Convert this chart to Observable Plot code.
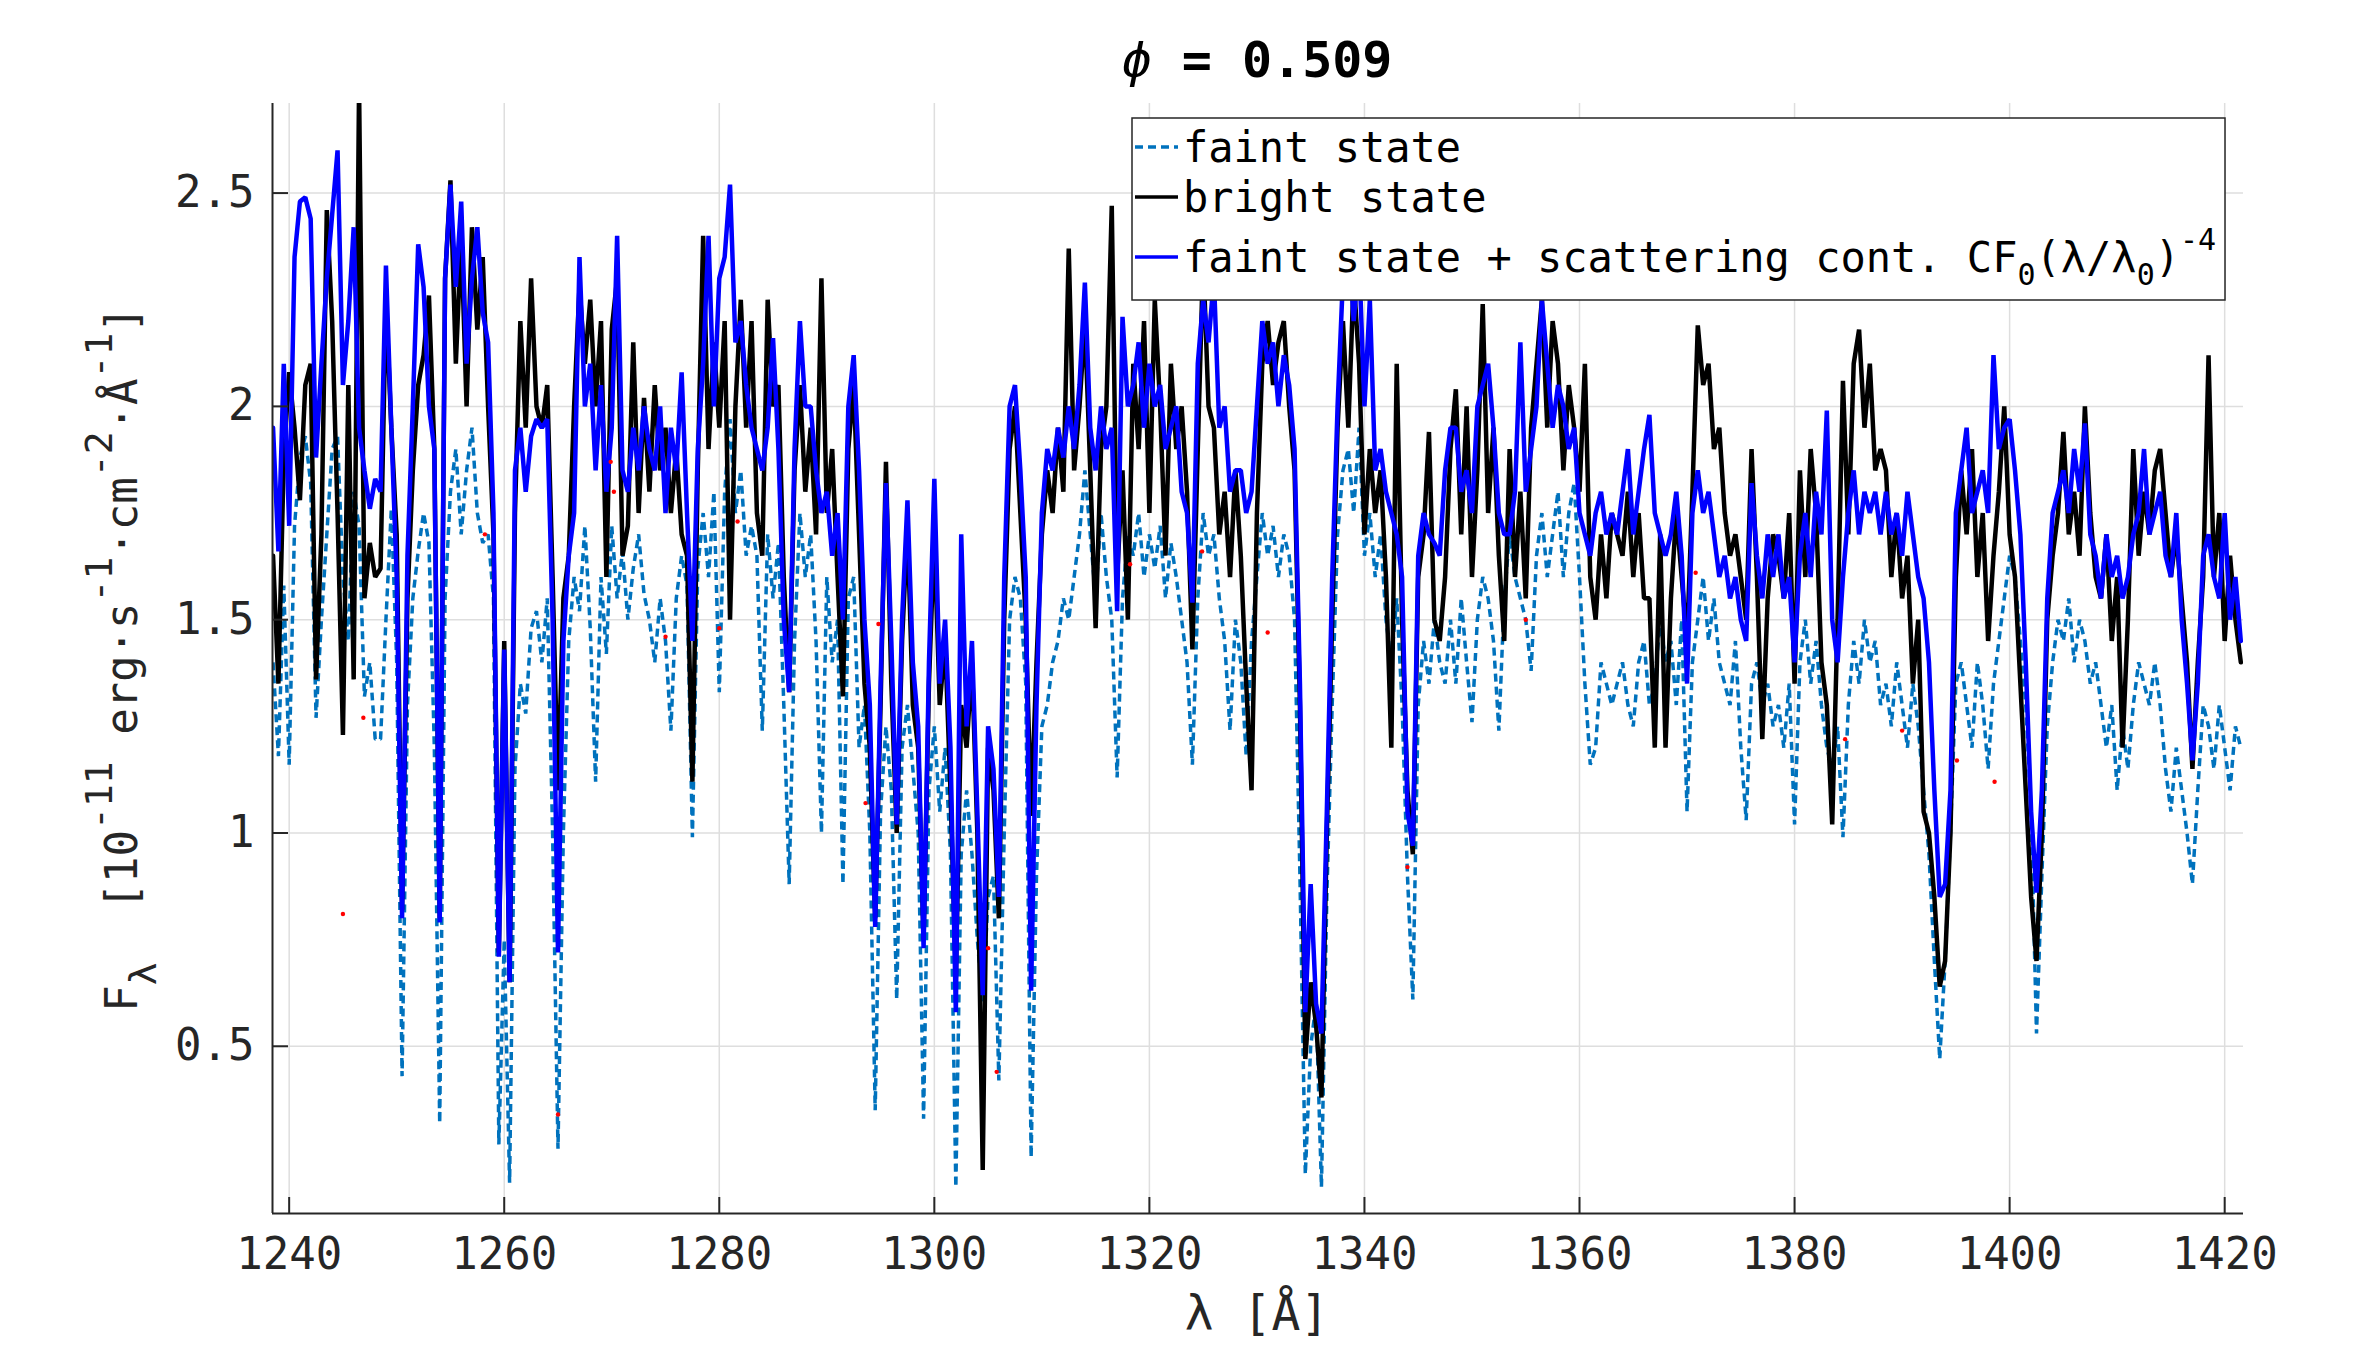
<!DOCTYPE html>
<html><head><meta charset="utf-8">
<script src="https://cdn.jsdelivr.net/npm/d3@7"></script>
<script src="https://cdn.jsdelivr.net/npm/@observablehq/plot@0.6"></script>
<style>html,body{margin:0;padding:0;background:#fff;} svg{display:block;}</style>
</head><body><div id="chart"></div>
<script>
// wavelength grid of the sampled spectra (Å)
const lambdaStart = 1238.5, lambdaStep = 0.5;

// faint state (dashed)
const faint = [
1.40,1.18,1.58,1.16,1.72,1.88,1.93,1.82,1.27,1.50,
1.70,1.90,1.93,1.60,1.45,1.80,1.72,1.32,1.40,1.22,
1.22,1.50,1.76,1.40,0.43,1.30,1.55,1.66,1.75,1.68,
1.20,0.32,1.55,1.80,1.90,1.70,1.85,1.95,1.75,1.68,
1.70,1.55,0.27,0.75,0.18,1.15,1.35,1.28,1.48,1.52,
1.40,1.55,1.00,0.26,1.00,1.45,1.60,1.52,1.72,1.48,
1.12,1.60,1.42,1.72,1.55,1.66,1.50,1.62,1.70,1.56,
1.50,1.40,1.55,1.45,1.24,1.55,1.65,1.58,0.99,1.62,
1.75,1.60,1.80,1.33,1.80,1.97,1.75,1.85,1.65,1.72,
1.65,1.24,1.70,1.55,1.68,1.30,0.88,1.45,1.75,1.60,
1.70,1.45,1.00,1.60,1.40,1.50,0.88,1.55,1.60,1.20,
1.30,1.00,0.35,1.05,1.25,1.10,0.61,1.20,1.30,1.15,
1.00,0.33,1.10,1.25,1.05,1.20,0.95,0.17,0.95,1.10,
0.95,0.75,0.60,0.85,0.90,0.42,1.00,1.50,1.60,1.55,
1.35,0.24,0.90,1.25,1.30,1.40,1.45,1.55,1.50,1.60,
1.70,1.85,1.70,1.55,1.75,1.60,1.50,1.13,1.55,1.70,
1.65,1.75,1.60,1.70,1.62,1.72,1.55,1.68,1.60,1.50,
1.40,1.16,1.55,1.75,1.65,1.70,1.55,1.45,1.24,1.50,
1.40,1.18,1.45,1.60,1.75,1.65,1.72,1.60,1.70,1.65,
1.50,0.90,0.20,0.50,0.60,0.17,0.85,1.30,1.70,1.85,
1.90,1.75,1.95,1.65,1.75,1.60,1.70,1.50,1.40,1.55,
1.30,0.90,0.61,1.30,1.45,1.35,1.50,1.40,1.35,1.50,
1.35,1.55,1.40,1.26,1.50,1.60,1.55,1.45,1.24,1.55,
1.70,1.60,1.55,1.50,1.38,1.65,1.75,1.60,1.70,1.80,
1.60,1.75,1.82,1.60,1.35,1.16,1.20,1.40,1.35,1.30,
1.35,1.40,1.30,1.25,1.40,1.45,1.30,1.35,1.50,1.40,
1.45,1.30,1.50,1.05,1.40,1.50,1.60,1.45,1.55,1.40,
1.35,1.30,1.45,1.20,1.03,1.35,1.40,1.30,1.35,1.25,
1.30,1.20,1.35,1.02,1.40,1.50,1.35,1.45,1.30,1.20,
1.15,1.25,0.99,1.30,1.45,1.35,1.50,1.40,1.45,1.30,
1.35,1.25,1.40,1.30,1.20,1.35,1.25,1.10,0.95,0.70,
0.47,0.70,1.00,1.35,1.40,1.30,1.20,1.40,1.30,1.15,
1.35,1.45,1.55,1.65,1.60,1.45,1.30,1.05,0.53,0.90,
1.25,1.40,1.50,1.45,1.55,1.40,1.50,1.45,1.35,1.40,
1.30,1.20,1.30,1.10,1.25,1.15,1.30,1.40,1.35,1.30,
1.40,1.30,1.15,1.05,1.20,1.10,1.00,0.88,1.10,1.30,
1.25,1.15,1.30,1.20,1.10,1.25,1.20
];

// bright state (black)
const bright = [
1.65,1.35,1.88,2.08,1.95,1.78,2.05,2.10,1.36,1.70,
2.46,2.20,1.75,1.23,2.05,1.36,2.75,1.55,1.68,1.60,
1.62,2.25,1.95,1.70,0.82,1.55,1.85,2.05,2.12,2.26,
1.90,0.80,2.30,2.53,2.10,2.40,2.00,2.42,2.18,2.35,
2.00,1.70,0.72,1.45,0.65,1.75,2.20,1.95,2.30,2.00,
1.95,2.05,1.60,1.10,1.55,1.65,2.00,2.28,2.10,2.25,
2.00,2.20,1.60,2.18,2.30,1.65,1.72,2.15,1.75,2.02,
1.80,2.05,1.85,1.95,1.75,1.90,1.70,1.65,1.12,1.85,
2.40,1.90,2.15,1.95,2.20,1.50,2.00,2.25,1.95,2.20,
1.75,1.65,2.25,2.00,2.05,1.60,1.33,1.85,2.05,1.80,
1.95,1.70,2.30,1.75,1.90,1.60,1.32,1.90,2.05,1.70,
1.35,1.20,0.80,1.30,1.87,1.35,1.00,1.45,1.72,1.30,
1.20,0.75,1.35,1.70,1.30,1.45,1.10,0.66,1.30,1.20,
1.40,1.00,0.21,1.20,1.10,0.80,1.50,1.90,2.00,1.75,
1.50,1.04,1.40,1.70,1.85,1.75,1.95,1.80,2.37,1.85,
2.00,2.20,1.85,1.48,1.90,2.00,2.47,1.60,1.85,1.50,
2.10,1.90,2.20,1.75,2.25,2.00,1.65,2.10,1.90,2.00,
1.80,1.43,1.90,2.35,2.00,1.95,1.70,1.80,1.60,1.85,
1.65,1.35,1.10,1.75,2.10,2.20,2.05,2.15,2.20,2.00,
1.85,1.30,0.47,0.65,0.55,0.38,1.00,1.50,1.95,2.20,
1.95,2.30,2.10,1.70,1.90,1.75,1.85,1.60,1.20,2.10,
1.50,1.10,0.95,1.60,1.70,1.94,1.50,1.45,1.60,1.90,
2.04,1.70,2.00,1.60,1.85,2.24,1.75,1.95,1.65,1.45,
1.90,1.60,1.80,1.55,1.95,2.10,2.25,1.95,2.20,2.10,
1.85,2.05,1.95,1.80,2.10,1.60,1.50,1.70,1.55,1.75,
1.70,1.65,1.80,1.60,1.75,1.55,1.55,1.20,1.70,1.20,
1.55,1.75,1.60,1.45,1.80,2.19,2.05,2.10,1.90,1.95,
1.75,1.65,1.70,1.60,1.50,1.90,1.60,1.22,1.55,1.70,
1.65,1.55,1.75,1.35,1.85,1.60,1.90,1.75,1.40,1.30,
1.02,1.50,2.06,1.70,2.10,2.18,1.95,2.10,1.85,1.90,
1.85,1.60,1.75,1.55,1.65,1.35,1.50,1.05,1.00,0.85,
0.64,0.70,1.00,1.60,1.85,1.70,1.90,1.60,1.75,1.45,
1.65,1.80,2.00,1.70,1.60,1.35,1.10,0.85,0.70,1.00,
1.50,1.65,1.75,1.94,1.70,1.80,1.65,2.00,1.75,1.60,
1.55,1.70,1.45,1.60,1.20,1.50,1.90,1.65,1.80,1.70,
1.85,1.90,1.75,1.60,1.70,1.55,1.40,1.15,1.40,1.60,
2.12,1.60,1.75,1.45,1.65,1.50,1.40
];

// faint state + scattering continuum (blue)
const scattered = [
1.95,1.66,2.10,1.72,2.35,2.48,2.49,2.44,1.88,2.10,
2.30,2.45,2.60,2.05,2.20,2.42,1.95,1.85,1.76,1.83,
1.80,2.33,1.95,1.60,0.80,1.65,2.00,2.38,2.28,2.00,
1.90,0.79,2.30,2.52,2.28,2.48,2.10,2.30,2.42,2.22,
2.15,1.75,0.71,1.43,0.65,1.85,1.95,1.80,1.93,1.97,
1.95,1.97,1.50,0.72,1.45,1.65,1.75,2.35,2.00,2.10,
1.85,2.05,1.80,1.95,2.40,1.85,1.80,1.95,1.85,2.00,
1.90,1.85,2.00,1.75,1.95,1.85,2.08,1.75,1.45,1.90,
2.10,2.40,2.00,2.30,2.35,2.52,2.15,2.20,2.05,1.95,
1.90,1.85,1.95,2.16,1.90,1.50,1.33,1.90,2.20,2.00,
2.00,1.85,1.75,1.80,1.65,1.75,1.50,2.00,2.12,1.85,
1.50,1.30,0.78,1.35,1.82,1.45,1.02,1.50,1.78,1.40,
1.25,0.73,1.40,1.83,1.35,1.50,1.20,0.58,1.70,1.25,
1.45,1.05,0.62,1.25,1.15,0.85,1.60,2.00,2.05,1.85,
1.60,0.63,1.30,1.75,1.90,1.85,1.95,1.88,2.00,1.90,
2.05,2.29,1.95,1.85,2.00,1.90,1.95,1.52,2.21,2.00,
2.05,2.15,1.95,2.10,2.00,2.05,1.90,1.95,2.00,1.80,
1.75,1.54,2.10,2.25,2.15,2.30,1.95,2.00,1.80,1.85,
1.85,1.75,1.80,2.00,2.20,2.10,2.15,2.00,2.12,2.05,
1.90,1.35,0.58,0.88,0.60,0.53,1.05,1.60,2.00,2.30,
2.40,2.20,2.35,2.00,2.25,1.85,1.90,1.80,1.75,1.70,
1.60,1.05,0.97,1.65,1.75,1.70,1.68,1.65,1.85,1.95,
1.95,1.80,1.85,1.75,2.00,2.05,2.10,1.95,1.75,1.70,
1.70,1.80,2.15,1.80,1.90,2.00,2.25,2.10,1.95,2.05,
2.00,1.90,1.95,1.75,1.70,1.65,1.75,1.80,1.70,1.75,
1.70,1.80,1.90,1.70,1.80,1.90,1.98,1.75,1.70,1.65,
1.70,1.80,1.65,1.35,1.75,1.85,1.75,1.80,1.70,1.60,
1.65,1.55,1.60,1.50,1.45,1.82,1.65,1.55,1.70,1.60,
1.70,1.55,1.60,1.40,1.65,1.75,1.60,1.80,1.70,1.99,
1.50,1.40,1.60,1.75,1.85,1.70,1.80,1.75,1.80,1.70,
1.80,1.70,1.75,1.65,1.80,1.70,1.60,1.55,1.40,1.10,
0.85,0.88,1.10,1.75,1.85,1.95,1.75,1.80,1.85,1.75,
2.12,1.90,1.95,1.97,1.85,1.70,1.40,1.05,0.86,1.10,
1.55,1.75,1.80,1.85,1.75,1.90,1.80,1.96,1.70,1.65,
1.55,1.70,1.60,1.65,1.55,1.60,1.70,1.75,1.90,1.70,
1.75,1.80,1.65,1.60,1.75,1.50,1.35,1.17,1.35,1.65,
1.70,1.60,1.55,1.75,1.50,1.60,1.45
];

// isolated red points
const redLambda = [1245.0,1246.9,1258.2,1265.0,1269.9,1270.2,1275.0,1280.0,1281.7,1293.6,1294.8,1305.0,1305.8,1318.2,1324.9,1331.0,1344.0,1355.0,1370.8,1384.7,1390.0,1395.1,1398.6];
const redFlux   = [0.81,1.27,1.70,0.34,1.87,1.80,1.46,1.48,1.73,1.07,1.49,0.73,0.44,1.63,1.66,1.47,0.92,1.50,1.61,1.22,1.24,1.17,1.12];

const xTicks = [1240,1260,1280,1300,1320,1340,1360,1380,1400,1420];
const yTicks = [0.5,1,1.5,2,2.5];
const xDomain = [1238.45, 1421.75];
const yDomain = [0.108, 2.71];

const lambda = faint.map((_, i) => lambdaStart + lambdaStep * i);
const toRows = arr => arr.map((v, i) => ({x: lambda[i], y: v}));
const redRows = redLambda.map((x, i) => ({x, y: redFlux[i]}));

const axisColor = "#262626";
const mono = "'DejaVu Sans Mono', monospace";

const plot = Plot.plot({
  width: 2372, height: 1349,
  marginLeft: 272, marginRight: 129, marginTop: 103, marginBottom: 136,
  style: {fontFamily: mono, fontSize: "44px", color: axisColor, background: "#fff", overflow: "visible"},
  x: {domain: xDomain, label: null},
  y: {domain: yDomain, label: null},
  marks: [
    Plot.gridX(xTicks, {stroke: "#dedede", strokeOpacity: 1, strokeWidth: 1.5}),
    Plot.gridY(yTicks, {stroke: "#dedede", strokeOpacity: 1, strokeWidth: 1.5}),
    Plot.line(toRows(faint), {x: "x", y: "y", stroke: "#0072BD", strokeWidth: 3.5, strokeDasharray: "8,5", strokeLinejoin: "miter", strokeLinecap: "butt", clip: true}),
    Plot.line(toRows(bright), {x: "x", y: "y", stroke: "#000000", strokeWidth: 4.5, strokeLinejoin: "miter", clip: true}),
    Plot.line(toRows(scattered), {x: "x", y: "y", stroke: "#0000FF", strokeWidth: 4.5, strokeLinejoin: "miter", clip: true}),
    Plot.dot(redRows, {x: "x", y: "y", r: 2.2, fill: "#FF0000", stroke: "none"}),
    Plot.ruleX([xDomain[0]], {stroke: axisColor, strokeWidth: 2}),
    Plot.ruleY([yDomain[0]], {stroke: axisColor, strokeWidth: 2}),
    Plot.axisX(xTicks, {tickSize: -16, tickPadding: 40, tickFormat: d => String(d), stroke: axisColor, strokeWidth: 2, fill: axisColor, fontSize: 44}),
    Plot.axisY(yTicks, {tickSize: -16, tickPadding: 34, tickFormat: d => String(d), stroke: axisColor, strokeWidth: 2, fill: axisColor, fontSize: 44})
  ]
});

document.getElementById("chart").appendChild(plot);

const svg = d3.select(plot);
const cx = 1257;

// title
const t = svg.append("text").attr("x", cx).attr("y", 60).attr("text-anchor", "middle")
  .attr("dominant-baseline", "central").style("font-family", mono).style("font-size", "50px")
  .style("fill", "#000").style("white-space", "pre");
t.append("tspan").style("font-style", "italic").text("ϕ");
t.append("tspan").style("font-weight", "bold").text(" = 0.509");

// x label
svg.append("text").attr("x", cx).attr("y", 1313).attr("text-anchor", "middle")
  .attr("dominant-baseline", "central").style("font-family", mono).style("font-size", "48px")
  .style("fill", axisColor).style("white-space", "pre").text("λ [Å]");

// y label
const yl = svg.append("text").attr("transform", "translate(121,659) rotate(-90)")
  .attr("text-anchor", "middle").attr("dominant-baseline", "central")
  .style("font-family", mono).style("font-size", "44px").style("fill", axisColor).style("white-space", "pre");
const ylParts = [["F", null], ["λ", "sub"], ["  [10", null], ["-11", "super"], [" erg·s", null], ["-1", "super"],
  ["·cm", null], ["-2", "super"], ["·Å", null], ["-1", "super"], ["]", null]];
ylParts.forEach(([s, shift]) => {
  const sp = yl.append("tspan").text(s);
  if (shift) sp.attr("baseline-shift", shift).style("font-size", "38px");
});

// legend
const lg = svg.append("g").attr("text-anchor", "start");
lg.append("rect").attr("x", 1132).attr("y", 118).attr("width", 1093).attr("height", 182)
  .attr("fill", "#ffffff").attr("stroke", axisColor).attr("stroke-width", 1.5);
const legendRows = [
  {y: 147, stroke: "#0072BD", dash: "8,5", w: 3.5, parts: [["faint state", null]]},
  {y: 197, stroke: "#000000", dash: null, w: 3.5, parts: [["bright state", null]]},
  {y: 257, stroke: "#0000FF", dash: null, w: 3.5, parts: [["faint state + scattering cont. CF", null], ["0", "sub"], ["(λ/λ", null], ["0", "sub"], [")", null], ["-4", "super"]]}
];
legendRows.forEach(r => {
  lg.append("line").attr("x1", 1135).attr("x2", 1178).attr("y1", r.y).attr("y2", r.y)
    .attr("stroke", r.stroke).attr("stroke-width", r.w).attr("stroke-dasharray", r.dash);
  const tx = lg.append("text").attr("x", 1183).attr("y", r.y).attr("text-anchor", "start")
    .attr("dominant-baseline", "central")
    .style("font-family", mono).style("font-size", "42px").style("fill", "#000").style("white-space", "pre");
  r.parts.forEach(([s, shift]) => {
    const sp = tx.append("tspan").text(s);
    if (shift) sp.attr("baseline-shift", shift).style("font-size", "30px");
  });
});
</script>
</body></html>
